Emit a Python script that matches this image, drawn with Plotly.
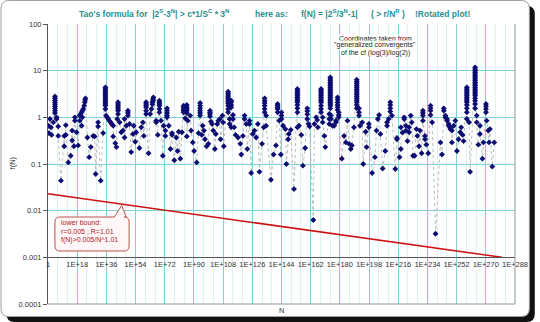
import plotly.graph_objects as go

W, H = 540, 322
ML, MR, MT, MB = 48, 20, 24, 18

# ---------------- data ----------------
# exponent of N (N = 10**exp) for each column of points, and the f(N) values in that column
log10_N = [
    0.2, 0.6, 1.2, 1.8, 2.2, 3.3, 4.3, 5.3, 6.3, 8.0, 10.0, 11.0, 12.5, 14.0, 14.9, 16.0, 16.6, 17.6, 18.6,
    19.6, 20.2, 20.7, 21.2, 21.7, 22.3, 22.7, 22.9, 23.1, 24.3, 25.4, 26.4, 27.8, 28.8, 29.4, 30.9, 32.5,
    34.0, 35.4, 35.8, 36.5, 37.2, 37.8, 38.6, 39.3, 40.2, 41.5, 42.2, 42.7, 43.2, 44.2, 45.2, 46.2, 47.2,
    48.3, 49.3, 50.3, 51.3, 52.4, 52.9, 53.8, 54.4, 56.4, 57.5, 58.5, 59.1, 60.5, 62.0, 63.0, 63.8, 64.4,
    64.8, 65.0, 66.7, 67.7, 68.7, 69.7, 70.8, 71.3,
    72.4, 73.4, 74.5, 75.5, 76.5, 77.9, 79.1, 79.9, 80.6, 81.6, 82.6, 83.6, 84.6, 85.6, 86.2, 87.7, 88.2,
    89.3, 90.1, 91.7, 92.8, 93.8, 94.8, 95.4, 96.2, 96.8, 97.8, 98.9, 99.9, 100.5, 101.2, 101.9, 102.9,
    103.5, 104.4, 105.0, 106.0, 106.4, 107.6, 108.0, 108.4, 111.1, 112.0, 113.0, 114.1, 114.8, 115.7,
    117.2, 118.6, 119.2, 120.2, 121.2, 122.3, 122.9, 124.3, 125.3, 126.3, 127.3, 128.4, 129.4, 130.4,
    132.0, 133.0, 133.6, 134.5, 137.5, 139.1, 140.6, 141.6, 142.6, 143.6,
    144.0, 145.0, 146.4, 147.0, 148.1, 148.5, 149.7, 151.7, 153.8, 154.8, 156.2, 157.2, 158.6, 159.9,
    160.7, 161.3, 163.6, 164.3, 165.4, 166.0, 166.4, 168.4, 169.4, 170.4, 171.0, 173.5, 174.1, 174.5,
    175.5, 176.5, 177.6, 178.6, 179.3, 181.2, 182.6, 183.7, 184.7, 185.7, 186.7, 187.4, 188.7, 190.4,
    191.8, 192.4, 193.8, 194.4, 195.9, 196.5, 197.9, 199.9, 201.6, 202.6, 203.4, 204.2, 205.0, 206.4,
    208.0, 209.1, 210.1, 211.1, 212.1, 214.2, 215.2, 216.8, 217.6,
    218.6, 219.7, 220.7, 221.7, 222.7, 223.7, 224.3, 225.1, 226.1, 227.2, 227.8, 228.8, 229.4, 230.4,
    231.2, 232.5, 233.3, 234.5, 235.9, 236.9, 239.0, 242.0, 243.0, 244.1, 245.1, 246.1, 247.1, 248.1,
    249.1, 250.2, 251.2, 252.2, 253.2, 254.2, 254.8, 255.7, 256.3, 258.3, 259.7, 260.3, 263.4, 264.4,
    265.4, 266.4, 267.9, 268.5, 270.1, 270.5, 271.5, 272.0, 272.5, 274.0, 275.2,
]

f_N = [
    [0.66], [0.46], [0.92], [0.61], [0.42], [0.78],
    [2.8, 2.55, 2.31, 2.1, 1.9, 1.72, 1.56, 1.39, 1.24],
    [1.0, 0.92], [0.64, 0.40], [0.044], [0.40, 0.24], [0.68, 0.42], [0.108], [0.15], [0.52, 0.32],
    [0.24], [1.0, 0.85], [0.48], [0.25],
    [1.09, 0.85], [1.18], [1.28, 0.66], [1.39, 1.0], [1.51], [1.78], [2.1], [2.35], [2.55],
    [0.37], [0.14], [0.23], [0.40], [0.39], [0.061], [0.78, 0.64], [0.044], [0.46],
    [4.4, 4.05, 3.73, 3.43, 3.16, 2.91, 2.68, 2.47, 2.28, 2.1, 1.93, 1.78, 1.51],
    [1.09], [1.0], [0.92], [0.85], [0.78], [0.72], [0.66, 0.39], [0.28], [0.23], [0.92],
    [2.1, 1.93, 1.78, 1.64, 1.51, 1.39, 1.18],
    [0.78], [0.48], [0.52], [0.92, 0.37], [0.66], [1.39, 1.24, 1.09], [0.72], [0.18], [0.44], [0.66],
    [0.30], [0.48], [0.22], [0.61], [0.78], [0.40],
    [2.1, 1.93, 1.78, 1.64, 1.39, 1.18],
    [0.17], [1.18], [1.51], [2.1, 1.9], [2.47, 2.28], [2.68], [0.85, 0.78], [0.42],
    [2.28, 2.1, 1.93, 1.78, 1.51, 1.28], [0.85], [0.15], [0.66],
    [0.40, 0.52], [1.56, 1.39, 1.24, 1.09, 1.0], [0.66], [0.21], [0.46, 0.42], [0.12], [0.37], [0.19],
    [0.49], [0.13], [0.48], [1.78, 1.64, 1.51, 1.39, 1.28], [0.95], [1.84, 1.64, 1.51, 1.39, 1.24, 0.39],
    [0.85], [1.09], [0.52], [0.29], [0.19], [0.108], [0.46], [2.03, 1.78, 1.56, 1.39, 1.24, 1.09],
    [0.42], [0.66], [0.52], [0.34], [0.24], [0.27], [1.39, 1.28, 1.18, 1.05], [0.81], [0.72], [0.52],
    [0.21], [0.44], [0.72], [0.85], [0.92], [0.34], [1.09], [0.78], [0.24],
    [3.55, 3.27, 3.0, 2.77, 2.55, 2.35, 2.17, 2.0, 1.78, 1.51, 1.28],
    [0.92, 0.72], [2.28, 2.1, 1.84, 1.64, 0.61], [1.12, 0.92], [0.61], [0.42], [0.37], [0.27], [0.16],
    [0.40], [1.09, 0.92], [0.72], [0.21], [0.85, 0.72], [0.064], [0.44], [0.52], [0.37], [0.72],
    [0.068], [0.27], [0.61], [2.55, 2.28, 2.03, 1.78, 1.51, 1.28], [1.09, 0.66], [0.046], [0.16],
    [0.25], [1.93, 1.78, 1.64, 1.51, 1.28], [0.85], [0.16],
    [1.28, 1.09, 0.92], [0.66], [0.56], [0.1], [0.34], [0.44], [0.54], [0.029],
    [4.05, 3.73, 3.43, 3.16, 2.91, 2.68, 2.47, 2.28, 2.1, 1.84, 1.56, 1.28, 0.61],
    [0.66], [0.42], [0.092], [0.22], [1.56, 1.37, 1.16, 0.92], [0.72], [0.64], [0.0063], [0.72],
    [1.0], [0.88], [0.61],
    [4.05, 3.73, 3.43, 3.16, 2.91, 2.68, 2.47, 2.28, 2.1, 1.78, 1.51, 1.28],
    [1.0, 0.78], [0.40], [0.23], [1.18, 0.92, 0.72],
    [7.2, 6.6, 6.1, 5.6, 5.2, 4.8, 4.4, 4.05, 3.73, 3.43, 3.16, 2.91, 2.68, 2.47, 2.28, 2.1, 1.93, 1.78, 1.56],
    [1.09, 0.92], [0.66], [0.66], [0.78, 0.85], [2.68, 2.4, 2.1, 1.84, 1.64, 1.44], [1.28, 1.12, 1.0],
    [0.13], [0.40], [0.29], [0.85], [0.27], [0.21], [0.25], [0.61],
    [6.4, 5.8, 5.3, 4.8, 4.4, 4.0, 3.65, 3.33, 3.05, 2.77, 2.55, 2.32, 2.1, 1.84, 1.56],
    [1.56, 1.28, 1.09], [0.66], [0.78], [0.1], [0.49], [0.23], [0.72, 0.61], [0.064], [0.14], [0.52],
    [0.92], [1.12], [0.44], [0.08], [0.19], [0.78, 0.66], [0.92], [2.1, 1.84, 1.56, 1.33], [1.09],
    [0.078], [0.34, 0.36], [0.14], [0.21, 0.61],
    [0.47], [1.0, 0.92], [0.66, 0.52], [0.31], [0.61, 0.48], [1.09], [0.78], [0.15], [0.15], [0.56],
    [0.40], [0.24], [0.52], [0.17], [1.39, 1.24, 1.09, 0.85], [0.40, 0.34], [0.26], [0.17],
    [1.78, 1.56, 1.39, 1.12], [0.78], [0.0032], [0.29], [0.16], [1.56, 1.39], [1.09, 1.0], [0.92, 0.85],
    [0.72, 0.66], [0.61, 0.56], [0.52, 0.29], [0.66], [0.85], [0.19], [0.34], [0.48], [0.61], [0.42],
    [0.31], [4.4, 4.05, 3.73, 3.43, 3.16, 2.91, 2.68, 2.47, 2.28, 2.1, 1.84, 1.56, 1.28, 0.92], [0.78],
    [0.068],
    [11.8, 10.8, 10.0, 9.2, 8.5, 7.8, 7.2, 6.6, 6.1, 5.6, 5.2, 4.8, 4.4, 4.05, 3.73, 3.43, 3.16, 2.91,
     2.55, 2.28, 1.93, 1.56],
    [1.09, 0.78], [0.26], [0.66, 0.44], [0.13], [0.29], [1.93, 1.72, 1.51, 1.28], [0.85], [0.52], [0.29],
    [0.56], [0.088], [0.29],
]

# lower-bound line (end points)
bound_log10_N = [0, 280]
bound_f = [0.023, 0.001]

x_tick_exp = list(range(0, 289, 18))
x_tick_text = ["1"] + ["1E+%d" % k for k in x_tick_exp[1:]]
y_tick_vals = [100, 10, 1, 0.1, 0.01, 0.001, 0.0001]
y_tick_text = ["100", "10", "1", "0.1", "0.01", "0.001", "0.0001"]

# ---------------- build ----------------
xs, ys = [], []
for e, col in zip(log10_N, f_N):
    for v in col:
        xs.append(10.0 ** e)
        ys.append(v)

PW, PH = W - ML - MR, H - MT - MB


def px(x):
    return (x - ML) / PW


def py(y):
    return (H - MB - y) / PH


FONT = "Liberation Sans, Arial, sans-serif"
TEAL = "#2b8f8f"
GRID = "#7fd3d6"

fig = go.Figure()
fig.add_trace(go.Scatter(
    x=xs, y=ys, mode="lines+markers",
    line=dict(color="#bcbcbc", width=1, dash="dot"),
    marker=dict(symbol="diamond", size=4.5, color="#0c0c72", line=dict(width=0)),
    showlegend=False, hoverinfo="x+y",
))
fig.add_trace(go.Scatter(
    x=[10.0 ** e for e in bound_log10_N], y=bound_f, mode="lines",
    line=dict(color="#cc1111", width=1.5), showlegend=False,
))

ymin, ymax = -4, 2
fig.update_layout(
    width=W, height=H, autosize=False,
    margin=dict(l=ML, r=MR, t=MT, b=MB, pad=0),
    paper_bgcolor="white", plot_bgcolor="#f2fafb",
    font=dict(family=FONT, size=8, color="#333333"),
    xaxis=dict(
        type="log", range=[0, 288],
        tickvals=[10.0 ** k for k in x_tick_exp], ticktext=x_tick_text,
        tickfont=dict(size=7.5, color="#333333"),
        anchor="free", position=(-3 - ymin) / (ymax - ymin),
        showline=True, linecolor="#555555", linewidth=1,
        showgrid=True, gridcolor=GRID, gridwidth=1, zeroline=False,
        ticks="", ticklen=0,
        minor=dict(tickvals=[10.0 ** k for k in range(6, 288, 6) if k % 18],
                   showgrid=True, gridcolor="#e0f1f3", gridwidth=1, ticks=""),
    ),
    yaxis=dict(
        type="log", range=[ymin, ymax],
        tickvals=y_tick_vals, ticktext=y_tick_text,
        tickfont=dict(size=7.5, color="#333333"),
        showline=True, linecolor="#555555", linewidth=1,
        showgrid=True, gridcolor=GRID, gridwidth=1, zeroline=False,
        ticks="outside", ticklen=4, tickcolor="#555555",
    ),
)

shapes = []
# plot-area frame (bottom and right)
shapes.append(dict(type="line", xref="paper", yref="paper", x0=0, x1=1, y0=0, y1=0,
                   line=dict(color="#8a9a9a", width=1)))
shapes.append(dict(type="line", xref="paper", yref="paper", x0=1, x1=1, y0=0, y1=1,
                   line=dict(color="#8a9a9a", width=1)))


def rounded(l, t, r, b, rad):
    pts = ["M %f %f" % (px(l + rad), py(t)),
           "L %f %f" % (px(r - rad), py(t)),
           "Q %f %f %f %f" % (px(r), py(t), px(r), py(t + rad)),
           "L %f %f" % (px(r), py(b - rad)),
           "Q %f %f %f %f" % (px(r), py(b), px(r - rad), py(b)),
           "L %f %f" % (px(l + rad), py(b)),
           "Q %f %f %f %f" % (px(l), py(b), px(l), py(b - rad)),
           "L %f %f" % (px(l), py(t + rad)),
           "Q %f %f %f %f" % (px(l), py(t), px(l + rad), py(t)), "Z"]
    return " ".join(pts)


# outer chart frame with shadow
shapes.append(dict(type="path", xref="paper", yref="paper", path=rounded(6, 6, 540, 322, 8),
                   fillcolor="#111111", line=dict(width=0), layer="below"))
shapes.append(dict(type="path", xref="paper", yref="paper", path=rounded(0.5, 0.5, 534.5, 316.5, 8),
                   fillcolor="white", line=dict(color="#a0a0a0", width=1), layer="below"))

# callout box for the lower bound
L, T, R, B, rad = 55, 217, 130, 251, 5
call = ["M %f %f" % (px(L + rad), py(T)),
        "L %f %f" % (px(115), py(T)),
        "L %f %f" % (px(122.5), py(205.5)),
        "L %f %f" % (px(127), py(T)),
        "L %f %f" % (px(R - rad), py(T)),
        "Q %f %f %f %f" % (px(R), py(T), px(R), py(T + rad)),
        "L %f %f" % (px(R), py(B - rad)),
        "Q %f %f %f %f" % (px(R), py(B), px(R - rad), py(B)),
        "L %f %f" % (px(L + rad), py(B)),
        "Q %f %f %f %f" % (px(L), py(B), px(L), py(B - rad)),
        "L %f %f" % (px(L), py(T + rad)),
        "Q %f %f %f %f" % (px(L), py(T), px(L + rad), py(T)), "Z"]
shapes.append(dict(type="path", xref="paper", yref="paper", path=" ".join(call),
                   fillcolor="#fff7f7", line=dict(color="#c0504d", width=1)))
fig.update_layout(shapes=shapes)

ann = []


def text(s, x, y, size=8, color="#333333", xanchor="center", bold=False, **kw):
    if bold:
        s = "<b>%s</b>" % s
    ann.append(dict(text=s, x=px(x), y=py(y), xref="paper", yref="paper", showarrow=False,
                    xanchor=xanchor, yanchor="middle", font=dict(family=FONT, size=size, color=color), **kw))


# title pieces
text("Tao's formula for  |2<sup>S</sup>-3<sup>N</sup>| > c*1/S<sup>C</sup> * 3<sup>N</sup>", 77, 14, 8.5, TEAL, "left", True)
text("here as:", 255, 14, 8.5, TEAL, "left", True)
text("f(N) = |2<sup>S</sup>/3<sup>N</sup>-1|", 302, 14, 8.5, TEAL, "left", True)
text("( > r/N<sup>R</sup> )", 372, 14, 8.5, TEAL, "left", True)
text("!Rotated plot!", 417, 14, 8.5, TEAL, "left", True)

# note
for s, yy in [("Coordinates taken from", 38), ("\"generalized convergents\"", 45.5), ("of the cf (log(3)/log(2))", 53)]:
    text(s, 379, yy, 7, "#222222", "center", bgcolor="white", borderpad=0)

# callout text
for s, yy in [("lower bound:", 223), ("r=0.005 ; R=1.01", 231.5), ("f(N)>0.005/N^1.01", 240)]:
    text(s, 59, yy, 7, "#b0182a", "left")

# axis titles
text("f(N)", 12, 163, 7.5, "#333333", "center", textangle=-90)
text("N", 284, 310, 7.5, "#333333", "center")

fig.update_layout(annotations=ann)
fig.write_html("out.html")
